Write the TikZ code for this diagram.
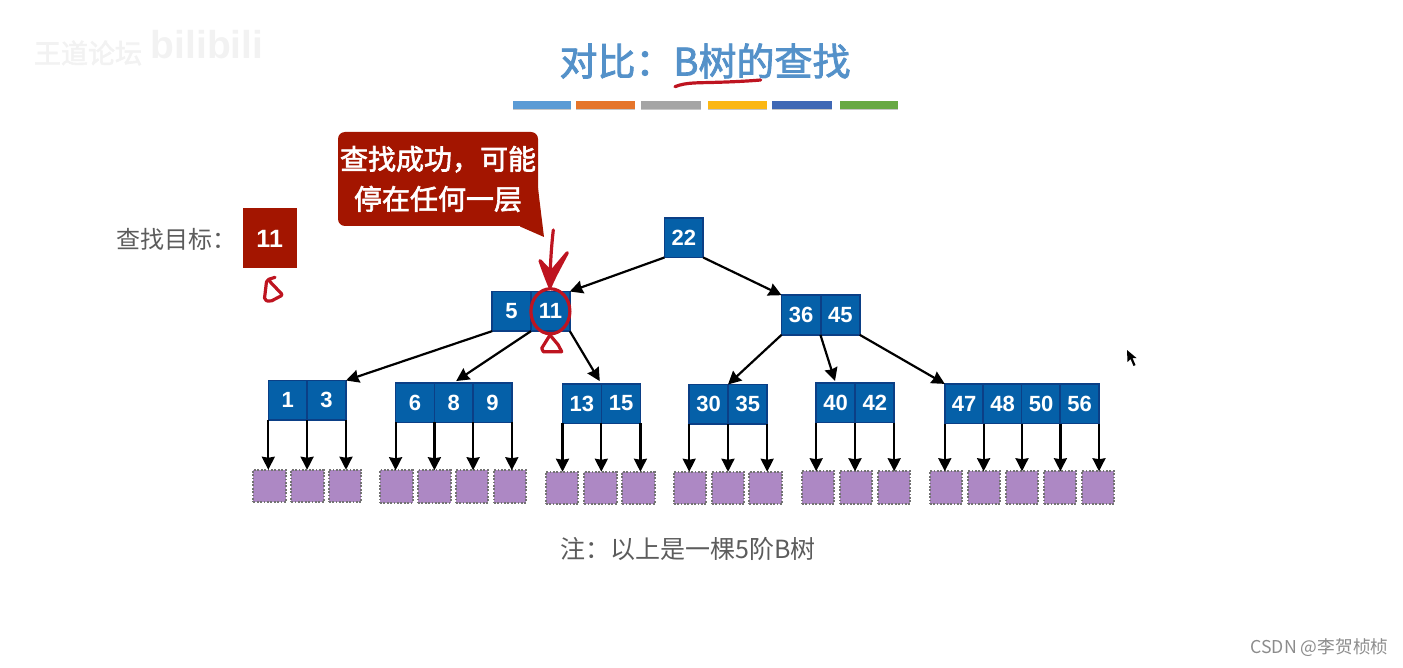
\documentclass[tikz,border=0pt]{standalone}
\usepackage{fontspec}
\setmainfont{Noto Sans CJK SC}
\newfontfamily\numfont{Liberation Sans}
\newfontfamily\titlefont[FakeBold=2.2]{Noto Sans CJK SC}
\usetikzlibrary{arrows.meta}
\newcommand{\pxfont}[2]{\fontsize{#1}{#2}\selectfont}
\definecolor{cellblue}{HTML}{0560A8}
\definecolor{cellline}{HTML}{0B3F86}
\definecolor{leafpurple}{HTML}{AD88C4}
\definecolor{darkred}{HTML}{A31500}
\definecolor{inkred}{HTML}{BE1420}
\definecolor{titleblue}{HTML}{5491C9}
\definecolor{textgray}{HTML}{5C5C5C}
\tikzset{
	cell/.style={draw=cellline,line width=1.6pt,fill=cellblue,text=white,minimum width=38.8pt,minimum height=39.6pt,inner sep=0pt,outer sep=0pt,font=\numfont\bfseries\pxfont{22}{22}},
	leaf/.style={draw=black!55,dash pattern=on 1.8pt off 1.6pt,line width=2pt,fill=leafpurple,minimum size=32.5pt,inner sep=0pt,outer sep=0pt},
	link/.style={-{Stealth[length=13pt,width=13pt,inset=1pt]},line width=2.2pt,black},
	ink/.style={draw=inkred,line width=3.2pt,line cap=round,line join=round},
	label/.style={text=textgray,inner sep=0pt}
}
\begin{document}
\begin{tikzpicture}[x=1pt,y=-1pt]
	\useasboundingbox (0,0) rectangle (1403,668);
	% watermark
	\node[text=black!5,inner sep=0pt,font=\titlefont\pxfont{27}{27}] (mark) at (88,53) {王道论坛};
	\node[text=black!5,inner sep=0pt,font=\numfont\bfseries\pxfont{39}{39}] (bili) at (207,45) {bilibili};
	% title
	\node[text=titleblue,inner sep=0pt,font=\titlefont\pxfont{38}{38}] (title) at (705,61) {对比：B树的查找};
	\foreach \xa/\xb/\col in {513/571/5B9BD5,576/635/E5752B,641/701/A5A5A5,708/767/FBB714,772/832/3F68B5,840/898/68A944}{
		\definecolor{barcol}{HTML}{\col}
		\fill[black!22] (\xa,103) rectangle (\xb,110.5);
		\fill[barcol] (\xa,101) rectangle (\xb,108.7);
	}
	% target
	\node[label,font=\pxfont{24}{24}] (goal) at (176,239) {查找目标：};
	\node[fill=darkred,text=white,minimum width=54pt,minimum height=60pt,inner sep=0pt,font=\numfont\bfseries\pxfont{25}{25}] (target) at (269.7,238.5) {11};
	% callout
	\fill[darkred,rounded corners=7pt] (338,132) -- (538,132) -- (538,190) -- (538,226) -- (338,226) -- cycle;
	\fill[darkred] (520,226.5) -- (544,237) -- (537,180) -- cycle;
	\node[text=white,align=center,inner sep=0pt,font=\titlefont\pxfont{28}{40}] (tip) at (438,179) {查找成功，可能\\停在任何一层};
	% keys
	\foreach \num/\x/\y in {22/683.8/237.7,
		5/511.6/311.3,11/550.4/311.3,36/801/315,45/840.3/315,
		1/287.7/400.3,3/326.6/400.3,6/415/402.5,8/453.7/402.5,9/492.4/402.5,
		13/581.9/403.5,15/621/403.5,30/708.6/404.3,35/747.8/404.3,
		40/835.6/402.7,42/874.8/402.7,
		47/964.2/403.7,48/1002.6/403.7,50/1041/403.7,56/1079.6/403.7}{
		\node[cell] (n\num) at (\x,\y) {\num};
	}
	% failure leaves
	\foreach \id/\x/\y in {1/269.7/486,2/307.5/486,3/345/486,
		4/396.3/486.5,5/434.3/486.5,6/472/486.5,7/510/486.5,
		8/562/488,9/600.5/488,10/638.5/488,
		11/690/488,12/728/488,13/765.7/488,
		14/818/487.5,15/856/487.5,16/894/487.5,
		17/946/487.5,18/984/487.5,19/1022/487.5,20/1060/487.5,21/1098/487.5}{
		\node[leaf] (l\id) at (\x,\y) {};
	}
	% links between keys
	\draw[link] (n22.south west) -- (n11.north east);
	\draw[link] (n22.south east) -- (n36.north west);
	\draw[link] (n5.south west) -- (n3.north east);
	\draw[link,shorten >=3pt] (n5.south east) -- (n8.north);
	\draw[link,shorten >=3pt] (n11.south east) -- (n13.north east);
	\draw[link] (n36.south west) -- (n30.north east);
	\draw[link,shorten >=2pt] (n36.south east) -- (n40.north);
	\draw[link] (n45.south east) -- (n47.north west);
	% links down to leaves
	\foreach \from/\to in {n1.south west/l1,n1.south east/l2,n3.south east/l3,
		n6.south west/l4,n6.south east/l5,n8.south east/l6,n9.south east/l7,
		n13.south west/l8,n13.south east/l9,n15.south east/l10,
		n30.south west/l11,n30.south east/l12,n35.south east/l13,
		n40.south west/l14,n40.south east/l15,n42.south east/l16,
		n47.south west/l17,n47.south east/l18,n48.south east/l19,n50.south east/l20,n56.south east/l21}{
		\draw[link] (\from) -- (\from |- \to.north);
	}
	% note
	\node[label,font=\pxfont{25}{25}] (note) at (688,549) {注：以上是一棵5阶B树};
	\node[text=black!45,inner sep=0pt,font=\pxfont{17.7}{17.7}] (csdn) at (1319.5,648) {CSDN @李贺桢桢};
	% pointer
	\fill[black] (1127,350) -- (1127.5,362) -- (1130.5,359) -- (1133.5,366) -- (1135.5,365) -- (1132.5,358) -- (1136.5,358) -- cycle;
	% pen marks
	\draw[ink] (675,86.7) .. controls (686,82) and (700,83) .. (716.7,82.3) .. controls (730,82) and (750,81) .. (760.7,80);
	\draw[ink,rounded corners=2pt] (275,277.3) -- (266.7,280) -- (264.3,300) -- (270,301.7) -- (282.7,295) -- (270,281.7);
	\draw[ink] (553.3,230) .. controls (551,250) and (550,270) .. (550,287);
	\draw[ink,fill=inkred] (540,260.7) .. controls (544,272) and (547,280) .. (550,287) .. controls (555,275) and (562,263) .. (567.3,252.7) -- (551,272) -- cycle;
	\draw[ink] (n11) ellipse (19.5pt and 22.5pt);
	\draw[ink] (550,335) -- (541.7,348.3) -- (543.3,351.7) -- (561.7,351.7) -- (558.3,345) -- cycle;
\end{tikzpicture}
\end{document}
